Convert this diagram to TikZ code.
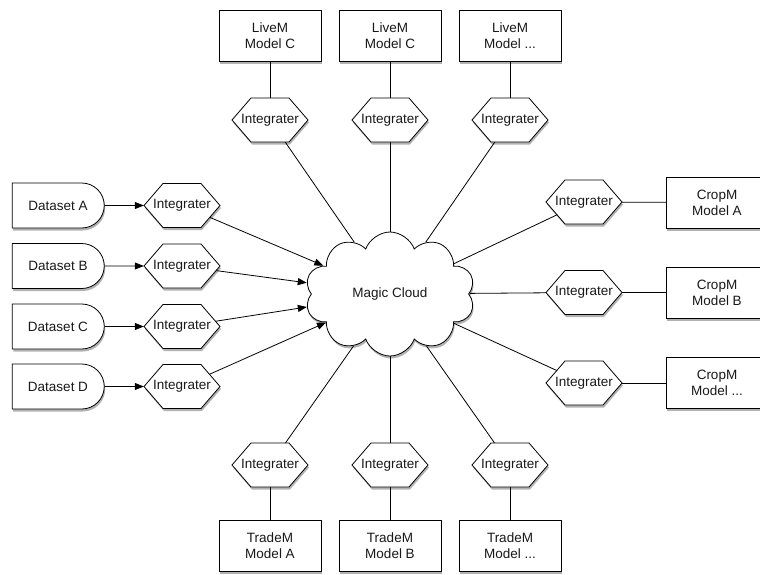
\documentclass[tikz,border=0pt]{standalone}
\usepackage{fontspec}
\setmainfont{Liberation Sans}
\usetikzlibrary{shapes.misc,shapes.symbols,shadows,arrows.meta}
\pgfdeclarelayer{cloudlayer}
\pgfdeclarelayer{bg}
\pgfsetlayers{cloudlayer,bg,main}
\tikzset{
 every node/.style={font=\fontsize{13.5}{16}\selectfont, text=black!90},
 softshadow/.style={drop shadow={shadow xshift=1pt, shadow yshift=-2.5pt, opacity=0.3, fill=black}},
 modelbox/.style={draw, fill=white, line width=0.8pt, minimum width=102pt, minimum height=51pt, align=center, inner sep=0pt, softshadow},
 dataset/.style={rounded rectangle, rounded rectangle left arc=none, draw, fill=white, line width=0.8pt, minimum width=92pt, minimum height=45pt, inner sep=0pt, softshadow},
 hexlabel/.style={minimum width=76pt, minimum height=44pt, inner sep=0pt},
 hexshape/.style={draw, fill=white, line width=0.8pt, line join=miter, softshadow},
 magic/.style={cloud, cloud puffs=10, cloud puff arc=140, cloud ignores aspect, draw, fill=white, line width=0.8pt, minimum width=170pt, minimum height=124pt, inner sep=0pt, softshadow},
 link/.style={line width=0.8pt},
 arrowlink/.style={link, -{Triangle[length=9pt,width=7pt]}},
}
\newcommand\hexat[3]{%
 \draw[hexshape] (#2,#3) ++(-38,0) -- ++(19,-22) -- ++(38,0) -- ++(19,22) -- ++(-19,22) -- ++(-38,0) -- cycle;
 \node[hexlabel] (#1) at (#2,#3) {Integrater};}
\begin{document}
\begin{tikzpicture}[x=1pt,y=-1pt]
\useasboundingbox (0,0) rectangle (760,574);
\begin{pgfonlayer}{cloudlayer}
\node[magic] (cloud) at (390,294) {Magic Cloud};
\end{pgfonlayer}
% top
\node[modelbox] (t1) at (270,35.5) {LiveM\\Model C};
\node[modelbox] (t2) at (390,35.5) {LiveM\\Model C};
\node[modelbox] (t3) at (510,35.5) {LiveM\\Model ...};
\hexat{th1}{270}{120}
\hexat{th2}{390}{120}
\hexat{th3}{510}{120}
% left
\node[dataset] (dA) at (58,205.5) {Dataset A};
\node[dataset] (dB) at (58,266) {Dataset B};
\node[dataset] (dC) at (58,326.5) {Dataset C};
\node[dataset] (dD) at (58,386.5) {Dataset D};
\hexat{hA}{182}{205.5}
\hexat{hB}{182}{266}
\hexat{hC}{182}{326.5}
\hexat{hD}{182}{386.5}
% right
\hexat{rh1}{584}{202}
\hexat{rh2}{584}{292.5}
\hexat{rh3}{584}{383}
\node[modelbox] (r1) at (717,202.5) {CropM\\Model A};
\node[modelbox] (r2) at (717,292.5) {CropM\\Model B};
\node[modelbox] (r3) at (717,383) {CropM\\Model ...};
% bottom
\hexat{bh1}{270}{465}
\hexat{bh2}{390}{465}
\hexat{bh3}{510}{465}
\node[modelbox] (b1) at (270,545.5) {TradeM\\Model A};
\node[modelbox] (b2) at (390,545.5) {TradeM\\Model B};
\node[modelbox] (b3) at (510,545.5) {TradeM\\Model ...};
\begin{pgfonlayer}{bg}
\foreach \n in {A,B,C,D}{
  \draw[arrowlink] (d\n) -- (h\n);
  \draw[arrowlink] (h\n.center) -- (cloud);
}
\foreach \i in {1,2,3}{
  \draw[link] (t\i.center) -- (th\i.center);
  \draw[link] (th\i.center) -- (cloud);
  \draw[link] (b\i.center) -- (bh\i.center);
  \draw[link] (bh\i.center) -- (cloud);
  \draw[link] (r\i.center) -- (rh\i.center);
  \draw[link] (rh\i.center) -- (cloud);
}
\end{pgfonlayer}
\end{tikzpicture}
\end{document}
